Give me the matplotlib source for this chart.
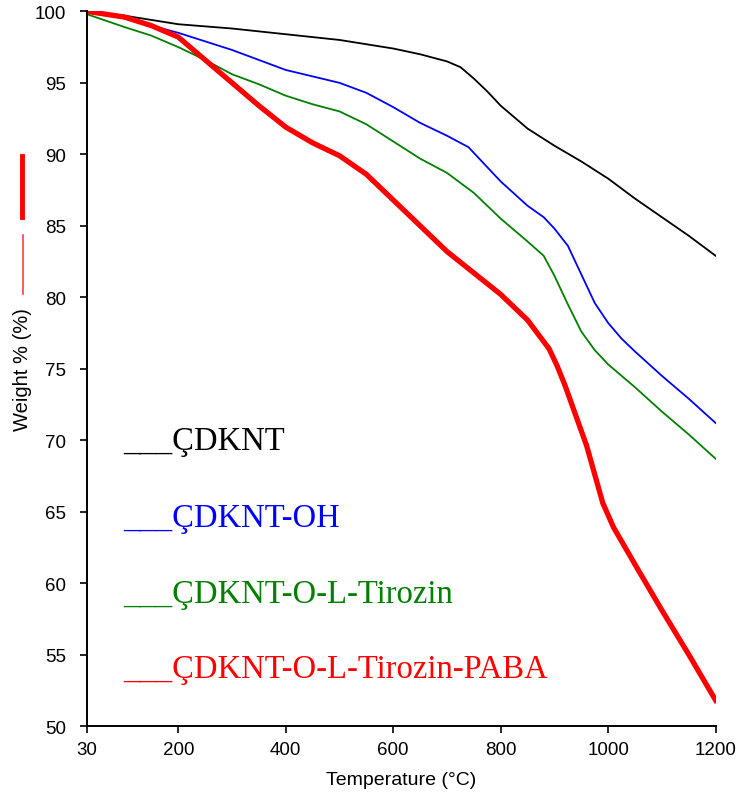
import matplotlib
matplotlib.use("Agg")
import matplotlib.pyplot as plt
from matplotlib.lines import Line2D

# TGA data
t_cdknt = [30, 100, 200, 300, 400, 500, 600, 650, 700, 725, 750, 775, 800, 850, 900, 950, 1000, 1050, 1100, 1150, 1200]
w_cdknt = [100, 99.7, 99.1, 98.8, 98.4, 98.0, 97.4, 97.0, 96.5, 96.1, 95.3, 94.4, 93.4, 91.8, 90.6, 89.5, 88.3, 86.9, 85.6, 84.3, 82.9]

t_oh = [30, 100, 200, 300, 400, 500, 550, 600, 650, 700, 740, 770, 800, 850, 880, 900, 925, 950, 975, 1000, 1025, 1050, 1100, 1150, 1200]
w_oh = [100, 99.5, 98.5, 97.3, 95.9, 95.0, 94.3, 93.3, 92.2, 91.3, 90.5, 89.3, 88.1, 86.4, 85.6, 84.8, 83.6, 81.6, 79.6, 78.2, 77.1, 76.2, 74.5, 72.9, 71.2]

t_tir = [30, 100, 150, 200, 250, 300, 350, 400, 450, 500, 550, 600, 650, 700, 750, 800, 850, 880, 900, 925, 950, 975, 1000, 1050, 1100, 1150, 1200]
w_tir = [99.8, 98.9, 98.3, 97.5, 96.6, 95.6, 94.9, 94.1, 93.5, 93.0, 92.1, 90.9, 89.7, 88.7, 87.3, 85.5, 83.9, 82.9, 81.5, 79.5, 77.6, 76.3, 75.3, 73.7, 72.0, 70.4, 68.7]

t_paba = [30, 100, 150, 200, 250, 300, 350, 400, 450, 500, 550, 600, 650, 700, 750, 800, 850, 890, 905, 920, 940, 960, 975, 990, 1010, 1050, 1100, 1150, 1200]
w_paba = [100, 99.6, 99.0, 98.2, 96.6, 95.0, 93.4, 91.9, 90.8, 89.9, 88.6, 86.8, 85.0, 83.2, 81.7, 80.2, 78.4, 76.4, 75.2, 73.8, 71.7, 69.6, 67.6, 65.6, 63.9, 61.3, 58.1, 55.0, 51.8]

etiketler = ["___ÇDKNT", "___ÇDKNT-OH", "___ÇDKNT-O-L-Tirozin", "___ÇDKNT-O-L-Tirozin-PABA"]
renkler = ["black", "#0000ff", "#008000", "#ff0000"]
etiket_y = [69.4, 64.0, 58.7, 53.4]

x_ticks = [30, 200, 400, 600, 800, 1000, 1200]
y_ticks = [50, 55, 60, 65, 70, 75, 80, 85, 90, 95, 100]

plt.rcParams['font.family'] = ['Liberation Sans', 'DejaVu Sans']

fig = plt.figure(figsize=(7.37, 8.03), dpi=100)
ax = fig.add_axes([0.118, 0.0946, 0.853, 0.890])

ax.plot(t_cdknt, w_cdknt, color=renkler[0], linewidth=1.3)
ax.plot(t_oh, w_oh, color=renkler[1], linewidth=1.3)
ax.plot(t_tir, w_tir, color=renkler[2], linewidth=1.3)
ax.plot(t_paba, w_paba, color=renkler[3], linewidth=3.8)

ax.set_xlim(30, 1200)
ax.set_ylim(50, 100)
ax.set_xticks(x_ticks)
ax.set_yticks(y_ticks)
ax.tick_params(labelsize=13.5, direction='out', length=5, width=1.2)
ax.tick_params(axis='y', pad=10)
ax.tick_params(axis='x', pad=6)
for s in ['top', 'right']:
    ax.spines[s].set_visible(False)
for s in ['left', 'bottom']:
    ax.spines[s].set_linewidth(1.4)

ax.set_xlabel('Temperature (°C)', fontsize=14, labelpad=9)
ax.set_ylabel('Weight % (%)', fontsize=14.5, labelpad=2)

# sample labels written inside the plot (serif, coloured)
for lab, c, yy in zip(etiketler, renkler, etiket_y):
    ax.text(97, yy, lab, color=c, fontsize=23.5, family='Liberation Serif', va='baseline', ha='left')

# red line marks beside the y label
fig.add_artist(Line2D([0.030, 0.030], [1 - 157 / 803, 1 - 218 / 803], color='#ff0000', linewidth=3.5,
                      transform=fig.transFigure))
fig.add_artist(Line2D([0.031, 0.031], [1 - 236 / 803, 1 - 295 / 803], color='#ff4040', linewidth=1.2,
                      transform=fig.transFigure))

fig.savefig('out.png', dpi=100)
